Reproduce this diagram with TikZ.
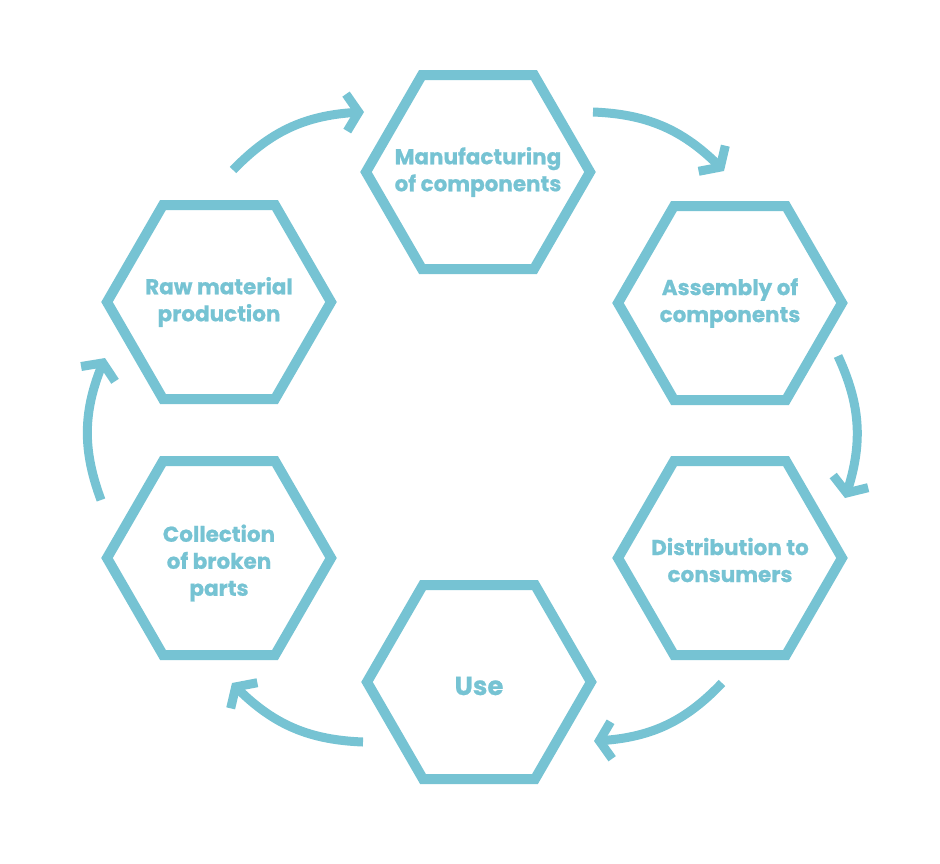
\documentclass[tikz,border=0pt]{standalone}
\usepackage{fontspec}
\setmainfont{Poppins}[BoldFeatures={FakeBold=0.8}]
\usetikzlibrary{shapes.geometric,arrows.meta,bending}
\definecolor{cyc}{RGB}{118,195,211}
\tikzset{
  hexa/.style={regular polygon, regular polygon sides=6, minimum size=224pt,
    inner sep=0pt, draw=cyc, line width=10pt, line join=miter},
  hexlabel/.style={text=cyc, font=\bfseries\fontsize{21.5}{27}\selectfont,
    align=center, inner sep=0pt},
  cycarrow/.style={draw=cyc, line width=9pt,
    -{Straight Barb[sharp,length=12pt,width=37pt,flex]}, bend left=22},
}
\begin{document}
\begin{tikzpicture}[x=1pt,y=-1pt]
\useasboundingbox (0,0) rectangle (940,863);
\node[hexa] (manu) at (478,172) {};
\node[hexa] (asse) at (730,303) {};
\node[hexa] (dist) at (730,558) {};
\node[hexa] (use)  at (479,682) {};
\node[hexa] (coll) at (219,558) {};
\node[hexa] (raw)  at (219,302) {};
\node[hexlabel] (manut) at (manu.center) {Manufacturing\\of components};
\node[hexlabel] (asset) at (asse.center) {Assembly of\\components};
\node[hexlabel] (distt) at ([yshift=-2pt]dist.center) {Distribution to\\consumers};
\node[hexlabel, font=\bfseries\fontsize{26}{30}\selectfont] (uset) at ([yshift=-4pt]use.center) {Use};
\node[hexlabel] (collt) at ([yshift=-5pt]coll.center) {Collection\\of broken\\parts};
\node[hexlabel] (rawt)  at (raw.center)  {Raw material\\production};
\coordinate (a1s) at (233,170); \coordinate (a1e) at (364,112);
\coordinate (a2s) at (593,112); \coordinate (a2e) at (724,171);
\coordinate (a3s) at (838,356); \coordinate (a3e) at (845,498);
\coordinate (a4s) at (722,683); \coordinate (a4e) at (594,741);
\coordinate (a5s) at (363,742); \coordinate (a5e) at (232,683);
\coordinate (a6s) at (101,500); \coordinate (a6e) at (105,358);
\draw[cycarrow] (a1s) to (a1e);
\draw[cycarrow] (a2s) to (a2e);
\draw[cycarrow] (a3s) to (a3e);
\draw[cycarrow] (a4s) to (a4e);
\draw[cycarrow] (a5s) to (a5e);
\draw[cycarrow] (a6s) to (a6e);
\end{tikzpicture}
\end{document}
